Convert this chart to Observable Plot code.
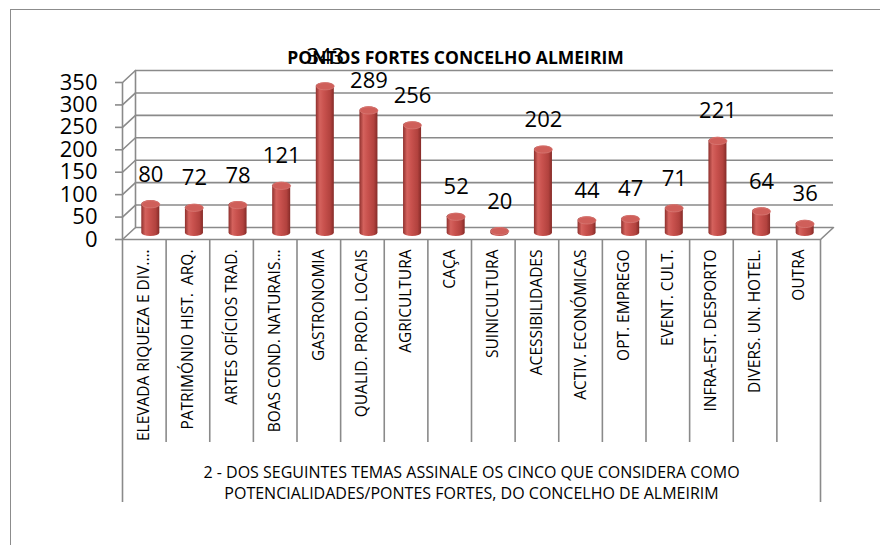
<!DOCTYPE html>
<html><head><meta charset="utf-8">
<script src="https://cdn.jsdelivr.net/npm/d3@7"></script>
<script src="https://cdn.jsdelivr.net/npm/@observablehq/plot@0.6"></script>
<style>
html,body{margin:0;padding:0;background:#fff;overflow:hidden;}
#wrap{position:relative;width:880px;height:545px;overflow:hidden;}
#border{position:absolute;left:10px;top:9px;width:900px;height:600px;border:1px solid #8c8c8c;}
#chart{position:absolute;left:0;top:0;}
</style></head><body>
<div id="wrap"><div id="border"></div><div id="chart"></div></div>
<script>
const title = "PONTOS FORTES CONCELHO ALMEIRIM";
const categories = [
  "ELEVADA RIQUEZA E DIV.…", "PATRIMÓNIO HIST.  ARQ.", "ARTES OFÍCIOS TRAD.", "BOAS COND. NATURAIS…",
  "GASTRONOMIA", "QUALID. PROD. LOCAIS", "AGRICULTURA", "CAÇA", "SUINICULTURA", "ACESSIBILIDADES",
  "ACTIV. ECONÓMICAS", "OPT. EMPREGO", "EVENT. CULT.", "INFRA-EST. DESPORTO", "DIVERS. UN. HOTEL.", "OUTRA"
];
const values = [80, 72, 78, 121, 343, 289, 256, 52, 20, 202, 44, 47, 71, 221, 64, 36];
const yTicks = [0, 50, 100, 150, 200, 250, 300, 350];
const captionLines = [
  "2 - DOS SEGUINTES TEMAS ASSINALE OS CINCO QUE CONSIDERA COMO",
  "POTENCIALIDADES/PONTES FORTES, DO CONCELHO DE ALMEIRIM"
];

const data = categories.map((c, i) => ({i, c, v: values[i]}));
const n = categories.length;

// 3D depth offset (px)
const DX = 13, DY = -12;
const grid = "#8a8a8a";
const FONT = "Open Sans, Lato, sans-serif";

const lineShape = {draw(ctx, l) { ctx.moveTo(0, 0); ctx.lineTo(0, -l); }};
const A = 9, B = 3.6, K = 0.5523;
const ellipse = {draw(ctx) {
  ctx.moveTo(-A, 0);
  ctx.bezierCurveTo(-A, -B * K, -A * K, -B, 0, -B);
  ctx.bezierCurveTo(A * K, -B, A, -B * K, A, 0);
  ctx.bezierCurveTo(A, B * K, A * K, B, 0, B);
  ctx.bezierCurveTo(-A * K, B, -A, B * K, -A, 0);
  ctx.closePath();
}};
const depthLen = Math.hypot(DX, DY), depthAngle = Math.atan2(DX, -DY) * 180 / Math.PI;

const chart = Plot.plot({
  width: 880, height: 545,
  marginLeft: 122, marginRight: 60, marginTop: 82, marginBottom: 306,
  style: {fontFamily: FONT, background: "transparent", color: "#000"},
  x: {domain: [0, n]},
  y: {domain: [0, 350]},
  marks: [
    // back wall gridlines
    Plot.ruleY(yTicks, {dx: DX, dy: DY, stroke: grid, strokeWidth: 1.6}),
    // side wall connectors
    Plot.vector(yTicks, {y: d => d, frameAnchor: "left", length: depthLen, rotate: depthAngle, anchor: "start", shape: lineShape, stroke: grid, strokeWidth: 1.6}),
    // floor right edge
    Plot.vector([0], {y: d => d, frameAnchor: "right", length: depthLen, rotate: depthAngle, anchor: "start", shape: lineShape, stroke: grid, strokeWidth: 1.6}),
    // back wall left vertical
    Plot.ruleX([0], {y1: 0, y2: 350, dx: DX, dy: DY, stroke: grid, strokeWidth: 1.6}),
    // front floor edge and front left axis
    Plot.ruleY([0], {stroke: grid, strokeWidth: 1.6}),
    Plot.ruleX([0], {y1: 0, y2: 350, stroke: grid, strokeWidth: 1.6}),
    // y axis ticks and labels
    Plot.axisY(yTicks, {tickSize: 7, tickPadding: 18, stroke: grid, fill: "#000", fontSize: 22, strokeWidth: 1.6, label: null}),
    // category separators
    Plot.axisX(d3.range(1, n), {tickSize: 203, tickFormat: () => "", stroke: grid, strokeWidth: 1.6, label: null}),
    Plot.axisX([0, n], {tickSize: 263, tickFormat: () => "", stroke: grid, strokeWidth: 1.6, label: null}),
    // category labels
    Plot.axisX(d3.range(n).map(i => i + 0.5), {tickSize: 0, tickPadding: 10, tickRotate: -90, tickFormat: d => categories[Math.floor(d)], fontSize: 15.5, fill: "#000", label: null}),
    // cylinders
    Plot.rectY(data, {x1: "i", x2: d => d.i + 1, y1: 0, y2: "v", insetLeft: 12.8, insetRight: 12.8, dx: DX / 2, dy: -3, rx: A, ry: B, fill: "url(#cylGrad)"}),
    Plot.dot(data, {x: d => d.i + 0.5, y: "v", dx: DX / 2, dy: -3 + B, symbol: ellipse, r: 5, fill: "#cf5f5a", stroke: "#dc8480", strokeWidth: 0.6}),
    // title
    Plot.text([title], {frameAnchor: "top", dx: -16, dy: -19, lineAnchor: "bottom", fontSize: 17.5, fontWeight: "bold", fill: "#000"}),
    // value labels
    Plot.text(data, {x: d => d.i + 0.5, y: "v", text: d => String(d.v), dx: DX / 2, dy: -22, lineAnchor: "bottom", fontSize: 22, fill: "#000"}),
    // caption
    Plot.text([captionLines.join("\n")], {frameAnchor: "bottom", dy: 224, lineAnchor: "top", lineHeight: 1.3, fontSize: 16, fill: "#000"})
  ]
});

const svg = d3.select(chart.tagName.toLowerCase() === "svg" ? chart : chart.querySelector("svg"));
const defs = svg.insert("defs", ":first-child");
const g = defs.append("linearGradient").attr("id", "cylGrad").attr("x1", "0").attr("x2", "1").attr("y1", "0").attr("y2", "0");
[["0%", "#8f302d"], ["22%", "#d4625d"], ["45%", "#c9524e"], ["80%", "#b2423e"], ["100%", "#852b28"]]
  .forEach(([o, c]) => g.append("stop").attr("offset", o).attr("stop-color", c));
document.getElementById("chart").appendChild(chart);
</script>
</body></html>
